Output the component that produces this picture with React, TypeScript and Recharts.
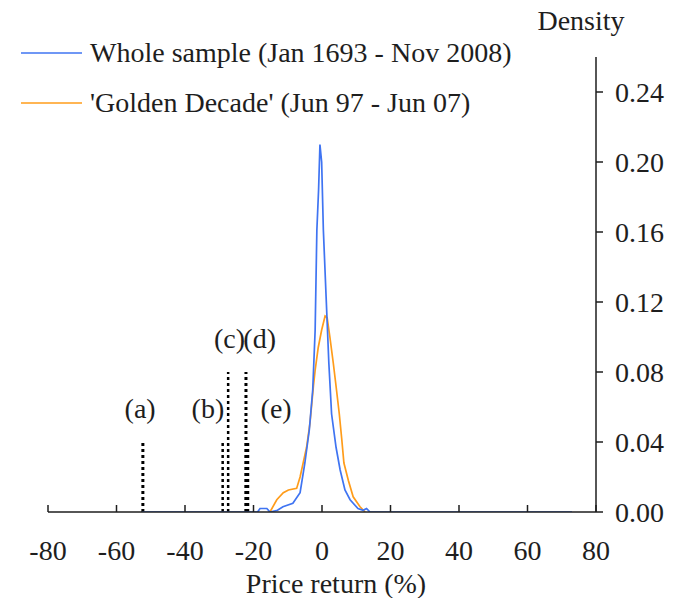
import React from 'react';
import {
  ComposedChart,
  Line,
  XAxis,
  YAxis,
  Legend,
  ReferenceDot,
} from 'recharts';

// density of monthly price returns
const wholeSample = [
  { x: -52.5, y: 0 },
  { x: -18.8, y: 0 },
  { x: -18.1, y: 0.002 },
  { x: -16.1, y: 0.002 },
  { x: -15.2, y: 0 },
  { x: -13.0, y: 0.001 },
  { x: -11.4, y: 0.003 },
  { x: -8.5, y: 0.005 },
  { x: -6.4, y: 0.011 },
  { x: -5.0, y: 0.028 },
  { x: -3.7, y: 0.047 },
  { x: -2.7, y: 0.07 },
  { x: -2.0, y: 0.104 },
  { x: -1.5, y: 0.161 },
  { x: -1.0, y: 0.184 },
  { x: -0.6, y: 0.21 },
  { x: -0.1, y: 0.2 },
  { x: 0.4, y: 0.161 },
  { x: 1.2, y: 0.123 },
  { x: 2.0, y: 0.085 },
  { x: 2.8, y: 0.056 },
  { x: 4.1, y: 0.037 },
  { x: 5.3, y: 0.024 },
  { x: 6.7, y: 0.0126 },
  { x: 8.2, y: 0.007 },
  { x: 10.5, y: 0.002 },
  { x: 12.0, y: 0.001 },
  { x: 13.0, y: 0.002 },
  { x: 14.0, y: 0 },
  { x: 73, y: 0 },
];

const goldenDecade = [
  { x: -15.2, y: 0 },
  { x: -13.2, y: 0.007 },
  { x: -11.3, y: 0.011 },
  { x: -9.8, y: 0.0126 },
  { x: -7.4, y: 0.0135 },
  { x: -6.4, y: 0.02 },
  { x: -5.5, y: 0.028 },
  { x: -4.5, y: 0.037 },
  { x: -3.5, y: 0.051 },
  { x: -2.5, y: 0.072 },
  { x: -2.0, y: 0.081 },
  { x: -1.1, y: 0.094 },
  { x: -0.1, y: 0.104 },
  { x: 0.9, y: 0.112 },
  { x: 1.5, y: 0.111 },
  { x: 2.3, y: 0.1 },
  { x: 3.3, y: 0.085 },
  { x: 4.1, y: 0.072 },
  { x: 5.05, y: 0.056 },
  { x: 5.75, y: 0.042 },
  { x: 6.4, y: 0.028 },
  { x: 7.7, y: 0.018 },
  { x: 9.1, y: 0.0087 },
  { x: 11.1, y: 0.003 },
  { x: 12.6, y: 0 },
];

// marked crash months: return and marker height
const crashNames = ['a', 'b', 'c', 'd', 'e'];
const crashReturns = [-52.3, -29.0, -27.4, -22.2, -21.9];
const crashHeights = [0.04, 0.04, 0.08, 0.08, 0.04];
const crashWidths = [3, 2.5, 2.5, 3, 4.5];

// where the (a)..(e) labels sit, in data units
const labelTexts = ['(a)', '(b)', '(c)', '(d)', '(e)'];
const labelX = [-53.1, -33.3, -27.0, -18.2, -13.4];
const labelY = [0.0594, 0.0594, 0.0994, 0.0994, 0.0594];

const xTicks = [-80, -60, -40, -20, 0, 20, 40, 60, 80];
const yTicks = [0, 0.04, 0.08, 0.12, 0.16, 0.2, 0.24];

const legendItems = [
  { name: 'Whole sample (Jan 1693 - Nov 2008)', color: '#3f74f2' },
  { name: "'Golden Decade' (Jun 97 - Jun 07)", color: '#ff9c1a' },
];

const FONT = 'Liberation Serif, Times New Roman, serif';
const INK = '#1e1e1e';
const textStyle = { fontFamily: FONT, fontSize: 28, fill: INK };

const XTick = (props: any) => {
  const { x, y, payload } = props;
  return (
    <g>
      <line x1={x} x2={x} y1={y} y2={y - 7} stroke={INK} strokeWidth={1.5} />
      <text x={x} y={y + 38} dy="0.35em" textAnchor="middle" style={textStyle}>
        {payload.value}
      </text>
    </g>
  );
};

const YTick = (props: any) => {
  const { x, y, payload } = props;
  return (
    <text x={x} y={y} dy="0.35em" textAnchor="start" style={textStyle}>
      {Number(payload.value).toFixed(2)}
    </text>
  );
};

const renderLegend = () => (
  <div style={{ fontFamily: FONT, fontSize: 28, color: INK }}>
    {legendItems.map((item) => (
      <div
        key={item.name}
        style={{ display: 'flex', alignItems: 'center', height: 50, whiteSpace: 'nowrap' }}
      >
        <svg width={62} height={4} style={{ marginRight: 7 }}>
          <line x1={0} x2={61} y1={2} y2={2} stroke={item.color} strokeWidth={1.6} />
        </svg>
        <span>{item.name}</span>
      </div>
    ))}
  </div>
);

const App: React.FC = () => {
  return (
    <div style={{ position: 'absolute', left: 0, top: 0, background: '#fff' }}>
      <ComposedChart
        width={677}
        height={598}
        margin={{ top: 57, right: 0, bottom: 0, left: 48 }}
      >
        <XAxis
          dataKey="x"
          type="number"
          domain={[-80, 80]}
          ticks={xTicks}
          allowDataOverflow
          height={86}
          tickSize={0}
          tickMargin={0}
          tickLine={false}
          tick={<XTick />}
          axisLine={{ stroke: INK, strokeWidth: 1.5 }}
          label={(p: any) => {
            const vb = p.viewBox;
            return (
              <text
                x={vb.x + vb.width / 2 + 14}
                y={vb.y + 71}
                dy="0.35em"
                textAnchor="middle"
                style={textStyle}
              >
                Price return (%)
              </text>
            );
          }}
        />
        <YAxis
          orientation="right"
          type="number"
          domain={[0, 0.26]}
          ticks={yTicks}
          allowDataOverflow
          width={81}
          tickSize={7}
          tickMargin={12}
          tick={<YTick />}
          tickLine={{ stroke: INK, strokeWidth: 1.5 }}
          axisLine={{ stroke: INK, strokeWidth: 1.5 }}
          label={(p: any) => {
            const vb = p.viewBox;
            return (
              <text
                x={vb.x - 15}
                y={vb.y - 37}
                dy="0.35em"
                textAnchor="middle"
                style={textStyle}
              >
                Density
              </text>
            );
          }}
        />
        <Legend
          layout="vertical"
          align="center"
          verticalAlign="middle"
          content={renderLegend}
          wrapperStyle={{ top: 28, left: 21, width: 'auto' }}
        />
        {crashNames.map((name, i) => (
          <Line
            key={name}
            data={[
              { x: crashReturns[i], y: 0 },
              { x: crashReturns[i], y: crashHeights[i] },
            ]}
            dataKey="y"
            stroke="#000"
            strokeWidth={crashWidths[i]}
            strokeDasharray="3 3"
            dot={false}
            activeDot={false}
            legendType="none"
            isAnimationActive={false}
          />
        ))}
        <Line
          data={goldenDecade}
          dataKey="y"
          name="Golden Decade"
          type="linear"
          stroke="#ff9c1a"
          strokeWidth={1.7}
          dot={false}
          isAnimationActive={false}
        />
        <Line
          data={wholeSample}
          dataKey="y"
          name="Whole sample"
          type="linear"
          stroke="#3f74f2"
          strokeWidth={1.7}
          dot={false}
          isAnimationActive={false}
        />
        {labelTexts.map((t, i) => (
          <ReferenceDot
            key={t}
            x={labelX[i]}
            y={labelY[i]}
            r={0}
            fill="none"
            stroke="none"
            label={{ value: t, position: 'center', style: textStyle }}
          />
        ))}
      </ComposedChart>
    </div>
  );
};

export default App;
